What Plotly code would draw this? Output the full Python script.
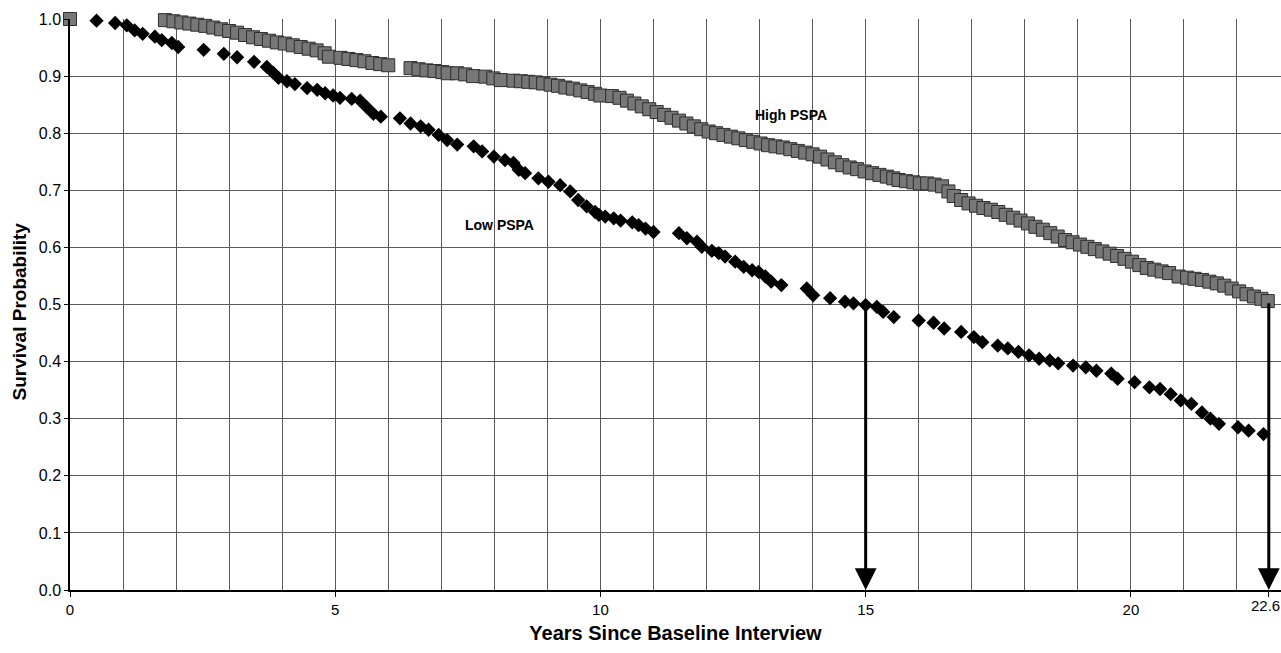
import plotly.graph_objects as go

# ---- data ----
high_x = [0, 1.79, 1.95, 2.1, 2.25, 2.4, 2.55, 2.7, 2.85, 3.0, 3.15, 3.3, 3.45, 3.6, 3.75, 3.9,
          4.05, 4.2, 4.35, 4.5, 4.65, 4.8, 4.88,
          5.1, 5.25, 5.4, 5.55, 5.7, 5.85, 6.0,
          6.42, 6.57, 6.72, 6.87, 7.02, 7.12,
          7.3, 7.45, 7.6,
          7.83, 7.98, 8.12,
          8.36, 8.5, 8.64, 8.78, 8.92, 9.06, 9.2, 9.34, 9.48, 9.62, 9.76, 9.9, 10.0,
          10.22, 10.36, 10.5, 10.64, 10.78, 10.92, 11.06, 11.2, 11.34, 11.48, 11.62, 11.76,
          11.9, 12.04, 12.18, 12.32, 12.46, 12.6, 12.74, 12.88, 13.02, 13.16, 13.3, 13.44,
          13.58, 13.72, 13.86, 14.0, 14.14, 14.28, 14.42, 14.56, 14.7, 14.84, 14.98, 15.12,
          15.26, 15.4, 15.52,
          15.62, 15.76, 15.9, 16.02,
          16.16, 16.3, 16.44,
          16.56, 16.66, 16.8, 16.94, 17.08, 17.22, 17.36, 17.5, 17.64, 17.78, 17.92, 18.06,
          18.2, 18.34, 18.48, 18.62, 18.76, 18.9, 19.04, 19.18, 19.32, 19.46, 19.6, 19.74,
          19.88, 20.02, 20.16, 20.3, 20.44, 20.58, 20.72, 20.9,
          21.06, 21.2, 21.34, 21.48, 21.62, 21.76, 21.9, 22.04, 22.18, 22.32, 22.46, 22.58]
high_y = [1.0, 0.998, 0.996, 0.994, 0.992, 0.99, 0.988, 0.985, 0.982, 0.979, 0.976, 0.972, 0.968, 0.965, 0.962, 0.959,
          0.957, 0.954, 0.951, 0.948, 0.945, 0.94, 0.934,
          0.932, 0.93, 0.928, 0.926, 0.923, 0.921, 0.919,
          0.914, 0.912, 0.91, 0.909, 0.907, 0.905,
          0.905, 0.903, 0.9,
          0.899, 0.896, 0.893,
          0.892, 0.891, 0.89, 0.889, 0.887, 0.885, 0.883, 0.88, 0.878, 0.875, 0.872, 0.869, 0.866,
          0.865, 0.862, 0.857, 0.852, 0.847, 0.842, 0.837, 0.832, 0.827, 0.822, 0.817, 0.812,
          0.807, 0.803, 0.8, 0.797, 0.794, 0.791, 0.788, 0.785, 0.782, 0.779, 0.777, 0.775,
          0.772, 0.769, 0.766, 0.763, 0.759, 0.754, 0.749, 0.744, 0.74, 0.737, 0.733, 0.73,
          0.727, 0.724, 0.721,
          0.718, 0.716, 0.714, 0.712,
          0.712, 0.71, 0.707,
          0.698, 0.69, 0.683, 0.677, 0.673, 0.669, 0.666, 0.662, 0.657, 0.652, 0.647, 0.642,
          0.636, 0.631, 0.625, 0.619, 0.613, 0.609, 0.605, 0.601, 0.597, 0.593, 0.589, 0.585,
          0.58, 0.575, 0.569, 0.564, 0.561, 0.558, 0.555, 0.549,
          0.547, 0.545, 0.543, 0.54, 0.537, 0.533, 0.528, 0.523, 0.518, 0.514, 0.51, 0.506]

low_x = [0, 0.5, 0.85, 1.07, 1.22, 1.37, 1.6, 1.73, 1.92, 2.04, 2.52, 2.9, 3.15, 3.47, 3.71, 3.83,
         3.93, 4.09, 4.24, 4.47, 4.66, 4.81, 4.96, 5.09, 5.31, 5.47, 5.6, 5.72, 5.86,
         6.22, 6.42, 6.61, 6.76, 6.95, 7.11, 7.3, 7.61, 7.77, 7.99, 8.2, 8.36, 8.46, 8.58, 8.83,
         9.02, 9.24, 9.43, 9.58, 9.74, 9.9, 9.97, 10.09, 10.25, 10.38, 10.6, 10.72, 10.85, 11.0,
         11.48, 11.63, 11.82, 11.91, 12.1, 12.23, 12.35, 12.54, 12.7, 12.86, 12.98, 13.11, 13.22,
         13.41, 13.89, 14.01, 14.33, 14.61, 14.77, 15.0, 15.21, 15.33, 15.53, 16.0, 16.28, 16.48,
         16.8, 17.04, 17.2, 17.49, 17.68, 17.88, 18.08, 18.27, 18.47, 18.63, 18.91, 19.15, 19.35,
         19.63, 19.75, 20.07, 20.35, 20.55, 20.75, 20.94, 21.14, 21.34, 21.5, 21.66, 22.02, 22.22,
         22.5]
low_y = [1.0, 0.997, 0.993, 0.989, 0.98, 0.974, 0.969, 0.963, 0.958, 0.951, 0.946, 0.939, 0.933, 0.925, 0.916, 0.906,
         0.897, 0.891, 0.886, 0.879, 0.876, 0.87, 0.866, 0.862, 0.86, 0.857, 0.845, 0.834, 0.829,
         0.826, 0.817, 0.812, 0.806, 0.797, 0.788, 0.78, 0.777, 0.768, 0.759, 0.753, 0.748, 0.736, 0.73, 0.721,
         0.715, 0.709, 0.698, 0.683, 0.672, 0.662, 0.657, 0.654, 0.651, 0.647, 0.644, 0.639, 0.633, 0.627,
         0.625, 0.616, 0.61, 0.601, 0.594, 0.59, 0.584, 0.575, 0.566, 0.56, 0.557, 0.549, 0.54,
         0.534, 0.528, 0.516, 0.511, 0.505, 0.502, 0.499, 0.496, 0.487, 0.478, 0.472, 0.468, 0.458,
         0.452, 0.443, 0.434, 0.428, 0.423, 0.417, 0.411, 0.405, 0.402, 0.397, 0.393, 0.39, 0.384,
         0.379, 0.37, 0.364, 0.355, 0.352, 0.343, 0.332, 0.326, 0.311, 0.3, 0.291, 0.285, 0.279,
         0.273]

median_x = [15, 22.6]
median_y = [0.5, 0.505]

x_tickvals = [0, 5, 10, 15, 20, 22.6]
x_ticktext = ["0", "5", "10", "15", "20", ""]
edge_tick_value = 22.6
edge_tick_text = "22.6"

series_labels = ["Low PSPA", "High PSPA"]
label_pos_x = [8.1, 13.6]
label_pos_y = [0.64, 0.832]

FONT = "Arial, Liberation Sans, sans-serif"
GRID = "#5a5a5a"

fig = go.Figure()
fig.add_trace(go.Scatter(
    x=low_x, y=low_y, mode="markers", name="Low PSPA",
    marker=dict(symbol="diamond", size=11, color="black", line=dict(width=0)),
    showlegend=False, cliponaxis=False))
fig.add_trace(go.Scatter(
    x=high_x, y=high_y, mode="markers", name="High PSPA",
    marker=dict(symbol="square", size=13, color="#777777", line=dict(width=1, color="#2e2e2e")),
    showlegend=False, cliponaxis=False))

annotations = []
for mx, my in zip(median_x, median_y):
    annotations.append(dict(
        x=mx, y=0, ax=mx, ay=my, xref="x", yref="y", axref="x", ayref="y",
        text="", showarrow=True, arrowhead=2, arrowsize=1.45, arrowwidth=3,
        arrowcolor="black", standoff=0, startstandoff=0))
for t, lx, ly in zip(series_labels, label_pos_x, label_pos_y):
    annotations.append(dict(
        x=lx, y=ly, xref="x", yref="y", text="<b>%s</b>" % t, showarrow=False,
        font=dict(family=FONT, size=14, color="black")))
# last tick label sits against the right edge, slightly raised
annotations.append(dict(
    x=edge_tick_value, y=0, xref="x", yref="y", text=edge_tick_text, showarrow=False,
    xanchor="right", yanchor="top", xshift=13, yshift=-5,
    font=dict(family=FONT, size=15, color="black")))
# y axis title (slightly below the plot's vertical centre, as in the reference)
annotations.append(dict(
    x=0, y=0.5, xref="paper", yref="paper", text="<b>Survival Probability</b>",
    textangle=-90, showarrow=False, xanchor="center", yanchor="middle",
    xshift=-51, yshift=-7, font=dict(family=FONT, size=19, color="black")))

fig.update_layout(
    width=1281, height=653,
    margin=dict(l=70, r=0, t=19, b=63, autoexpand=False),
    paper_bgcolor="white", plot_bgcolor="white",
    font=dict(family=FONT, size=15, color="black"),
    annotations=annotations,
    xaxis=dict(
        range=[0, 22.83], tickvals=x_tickvals, ticktext=x_ticktext,
        showgrid=False, zeroline=False, automargin=False,
        showline=True, linecolor="black", linewidth=1.5,
        ticks="outside", ticklen=5, tickcolor="black",
        tickfont=dict(family=FONT, size=15),
        minor=dict(tickmode="linear", tick0=0, dtick=1, showgrid=True,
                   gridcolor=GRID, gridwidth=1),
        title=dict(text="<b>Years Since Baseline Interview</b>",
                   font=dict(family=FONT, size=20), standoff=9),
    ),
    yaxis=dict(
        range=[0, 1.0], dtick=0.1, tick0=0, tickformat=".1f",
        showgrid=True, gridcolor=GRID, gridwidth=1, zeroline=False, automargin=False,
        showline=True, linecolor="black", linewidth=1.5,
        ticks="outside", ticklen=4, tickcolor="black",
        tickfont=dict(family=FONT, size=16),
    ),
)

fig.write_html("out.html",
               config={"displayModeBar": False},
               post_script="document.body.style.margin='0';document.body.style.overflow='hidden';")
